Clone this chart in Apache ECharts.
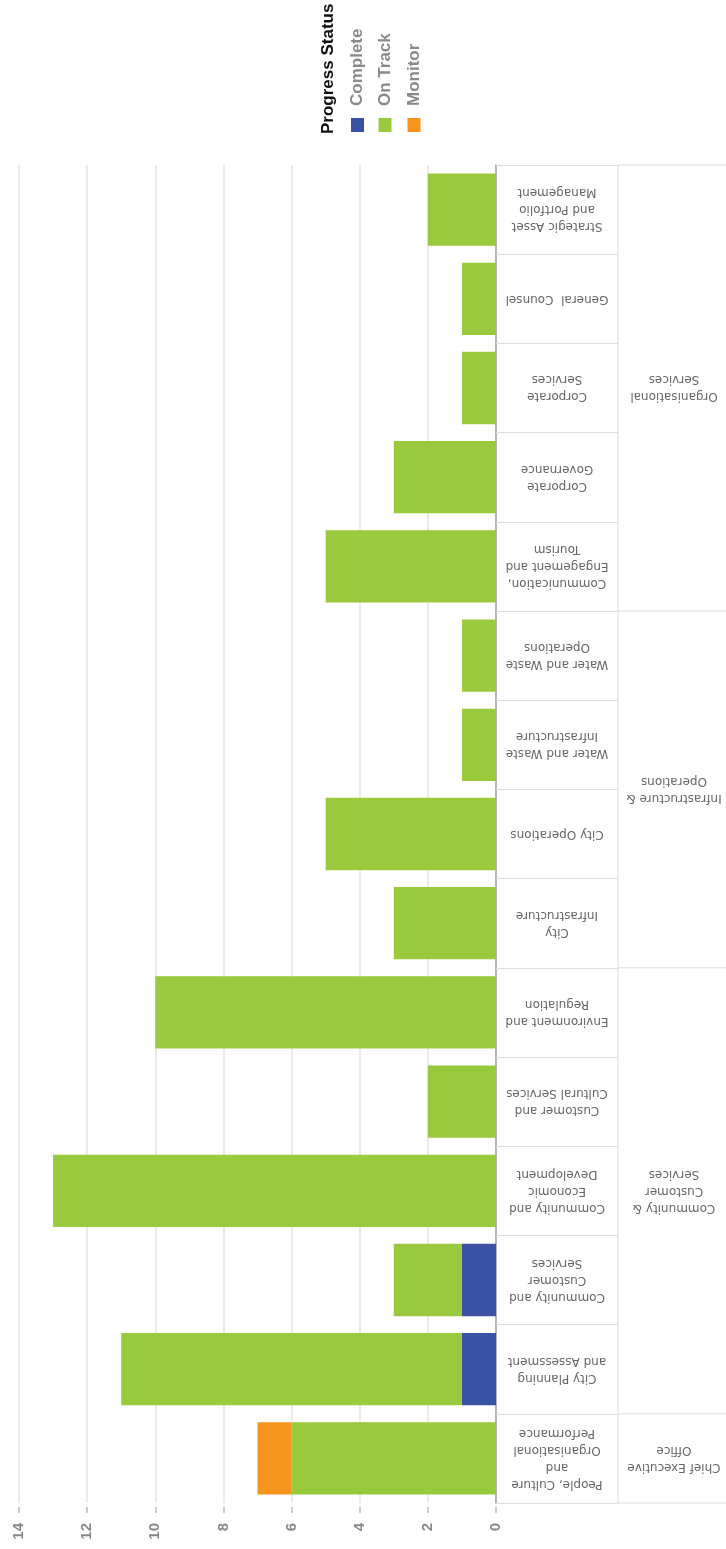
<!DOCTYPE html>
<html>
<head>
<meta charset="utf-8">
<script src="https://cdn.jsdelivr.net/npm/echarts@6/dist/echarts.min.js"></script>
<style>html,body{margin:0;padding:0;background:#fff}#c{width:726px;height:1549px}</style>
</head>
<body>
<div id="c"></div>
<script>
const categories = [
  "People, Culture\nand\nOrganisational\nPerformance",
  "City Planning\nand Assessment",
  "Community and\nCustomer\nServices",
  "Community and\nEconomic\nDevelopment",
  "Customer and\nCultural Services",
  "Environment and\nRegulation",
  "City\nInfrastructure",
  "City Operations",
  "Water and Waste\nInfrastructure",
  "Water and Waste\nOperations",
  "Communication,\nEngagement and\nTourism",
  "Corporate\nGovernance",
  "Corporate\nServices",
  "General  Counsel",
  "Strategic Asset\nand Portfolio\nManagement"
];
const complete = [0, 1, 1, 0, 0, 0, 0, 0, 0, 0, 0, 0, 0, 0, 0];
const onTrack  = [6, 10, 2, 13, 2, 10, 3, 5, 1, 1, 5, 3, 1, 1, 2];
const monitor  = [1, 0, 0, 0, 0, 0, 0, 0, 0, 0, 0, 0, 0, 0, 0];
const groupNames = ["Chief Executive\nOffice", "Community &\nCustomer\nServices", "Infrastructure &\nOperations", "Organisational\nServices"];
const groupSizes = [1, 5, 4, 5];
const seriesNames = ["Complete", "On Track", "Monitor"];
const seriesColors = ["#3a52a3", "#99c93c", "#f7941e"];
const legendTitle = "Progress Status";

const chart = echarts.init(document.getElementById('c'), null, {renderer: 'canvas'});
const FONT = 'DejaVu Sans';
const option = {
  animation: false,
  backgroundColor: '#fff',
  grid: {left: 19, right: 230, top: 165, bottom: 46, containLabel: false},
  xAxis: {
    type: 'value', inverse: true, min: 0, max: 14, interval: 2, position: 'bottom', offset: 4,
    axisLine: {show: false},
    axisTick: {show: true, length: 6, lineStyle: {color: '#bbb', width: 1.5}},
    axisLabel: {rotate: 90, margin: 16, color: '#888', fontSize: 15, fontWeight: 'bold', fontFamily: 'Liberation Sans'},
    splitLine: {show: true, lineStyle: {color: '#e4e4e4', width: 1.5}}
  },
  yAxis: {
    type: 'category', data: categories, position: 'right',
    axisLine: {show: true, lineStyle: {color: '#a0a0a0', width: 1.5}},
    axisTick: {show: true, length: 122, interval: 0, lineStyle: {color: '#dcdcdc', width: 1}},
    axisLabel: {interval: 0, rotate: 180, align: 'center', verticalAlign: 'middle', margin: 61,
      color: '#666', fontSize: 12, lineHeight: 17, fontFamily: FONT},
    splitLine: {show: false}
  },
  series: seriesNames.map((n, i) => ({
    name: n, type: 'bar', stack: 'total', barCategoryGap: '19%',
    itemStyle: {color: seriesColors[i]},
    data: [complete, onTrack, monitor][i]
  }))
};
chart.setOption(option);

// derived layout from the library's scales
const yc = i => chart.convertToPixel({yAxisIndex: 0}, i);
const band = yc(0) - yc(1);
const boundary = i => yc(i) + band / 2; // lower edge of category i
const x0 = chart.convertToPixel({xAxisIndex: 0}, 0);
const colX = x0 + 122;
const rightX = 726;
const graphics = [];
const lineStyle = {stroke: '#dcdcdc', lineWidth: 1};
graphics.push({type: 'line', shape: {x1: colX, y1: boundary(14) - band, x2: colX, y2: boundary(0)}, style: lineStyle});
let start = 0;
const bounds = [0];
groupSizes.forEach((s, gi) => {
  const end = start + s;
  bounds.push(end);
  const yTop = boundary(end - 1) - band;
  const yBot = boundary(start);
  graphics.push({type: 'text', x: (colX + rightX) / 2 + 2, y: (yTop + yBot) / 2, rotation: Math.PI,
    style: {text: groupNames[gi], align: 'center', verticalAlign: 'middle', fill: '#666', fontSize: 12, lineHeight: 17, fontFamily: FONT}});
  start = end;
});
bounds.forEach(b => {
  const y = b === 15 ? boundary(14) - band : boundary(b);
  graphics.push({type: 'line', shape: {x1: colX, y1: y, x2: rightX, y2: y}, style: lineStyle});
});
// legend (rotated)
graphics.push({type: 'text', x: 328, y: 134, rotation: Math.PI / 2,
  style: {text: legendTitle, align: 'left', verticalAlign: 'middle', fill: '#111', fontSize: 17, fontWeight: 'bold', fontFamily: 'Liberation Sans'}});
const legX = [357.5, 385, 414];
seriesNames.forEach((n, i) => {
  graphics.push({type: 'rect', shape: {x: legX[i] - 6.5, y: 118, width: 13, height: 14}, style: {fill: seriesColors[i]}});
  graphics.push({type: 'text', x: legX[i], y: 106, rotation: Math.PI / 2,
    style: {text: n, align: 'left', verticalAlign: 'middle', fill: '#8a8a8a', fontSize: 17, fontWeight: 'bold', fontFamily: 'Liberation Sans'}});
});
chart.setOption({graphic: graphics});
</script>
</body>
</html>
